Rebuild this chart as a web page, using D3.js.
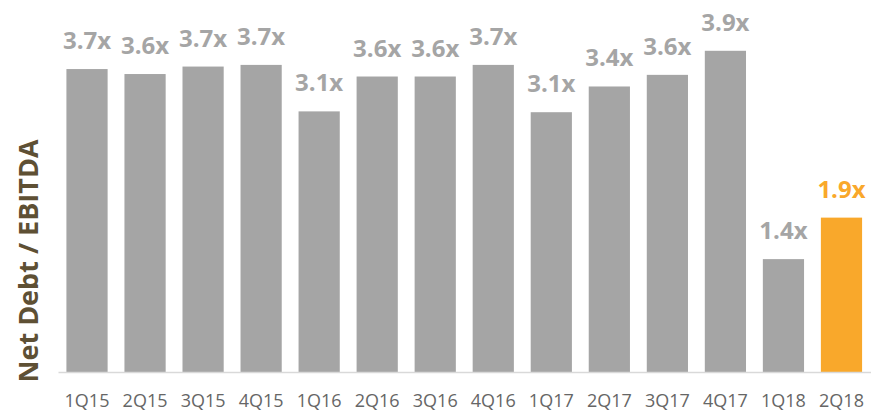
<!DOCTYPE html>
<html>
<head>
<meta charset="utf-8">
<script src="https://cdn.jsdelivr.net/npm/d3@7"></script>
<style>
  body { margin: 0; background: #fff; }
  text { font-family: "Open Sans", sans-serif; }
</style>
</head>
<body>
<div id="chart"></div>
<script>
var quarters = ["1Q15","2Q15","3Q15","4Q15","1Q16","2Q16","3Q16","4Q16","1Q17","2Q17","3Q17","4Q17","1Q18","2Q18"];
var ratios = [3.65, 3.59, 3.68, 3.70, 3.14, 3.56, 3.56, 3.70, 3.13, 3.44, 3.58, 3.87, 1.36, 1.86];
var ratioLabels = ["3.7x","3.6x","3.7x","3.7x","3.1x","3.6x","3.6x","3.7x","3.1x","3.4x","3.6x","3.9x","1.4x","1.9x"];
var highlight = "2Q18";

(function() {
	var width = 872, height = 413;
	var baseY = 372;

	var svg = d3.select("#chart")
		.append("svg")
		.attr("width", width)
		.attr("height", height);

	var xPositionScale = d3.scaleBand().domain(quarters).range([58, 870.5]).paddingInner(0.29).paddingOuter(0.145);
	var yPositionScale = d3.scaleLinear().domain([0, 4.5]).range([baseY, baseY - 4.5 * 83]);

	var data = quarters.map(function(q, i) {
		return { q: q, v: ratios[i], label: ratioLabels[i] };
	});

	svg.selectAll(".bar")
		.data(data)
		.enter()
		.append("rect")
		.attr("class", "bar")
		.attr("x", function(d) { return xPositionScale(d.q) })
		.attr("width", xPositionScale.bandwidth())
		.attr("y", function(d) { return yPositionScale(d.v) })
		.attr("height", function(d) { return yPositionScale(0) - yPositionScale(d.v) })
		.attr("fill", function(d) { return d.q == highlight ? "#F9A82B" : "#A5A5A5" });

	svg.selectAll(".val")
		.data(data)
		.enter()
		.append("text")
		.attr("class", "val")
		.attr("x", function(d) { return xPositionScale(d.q) + xPositionScale.bandwidth() / 2 })
		.attr("y", function(d) { return yPositionScale(d.v) - 20 })
		.attr("text-anchor", "middle")
		.attr("font-size", 24)
		.attr("font-weight", "bold")
		.attr("fill", function(d) { return d.q == highlight ? "#F9A82B" : "#A5A5A5" })
		.text(function(d) { return d.label });

	// baseline + category labels
	var xAxis = d3.axisBottom(xPositionScale).tickSize(0).tickPadding(0);
	var gx = svg.append("g")
		.attr("class", "axis x-axis")
		.attr("transform", "translate(0," + baseY + ")")
		.call(xAxis);
	gx.select(".domain").attr("stroke", "#D9D9D9").attr("stroke-width", 1.5);
	gx.selectAll("text")
		.attr("dy", 0)
		.attr("y", 35)
		.attr("font-size", 18)
		.attr("fill", "#666666")
		.style("font-family", "'Open Sans', sans-serif");

	svg.append("text")
		.attr("transform", "translate(38,261) rotate(-90)")
		.attr("text-anchor", "middle")
		.attr("font-size", 27)
		.attr("font-weight", "bold")
		.attr("fill", "#5E5034")
		.text("Net Debt / EBITDA");
})();
</script>
</body>
</html>
